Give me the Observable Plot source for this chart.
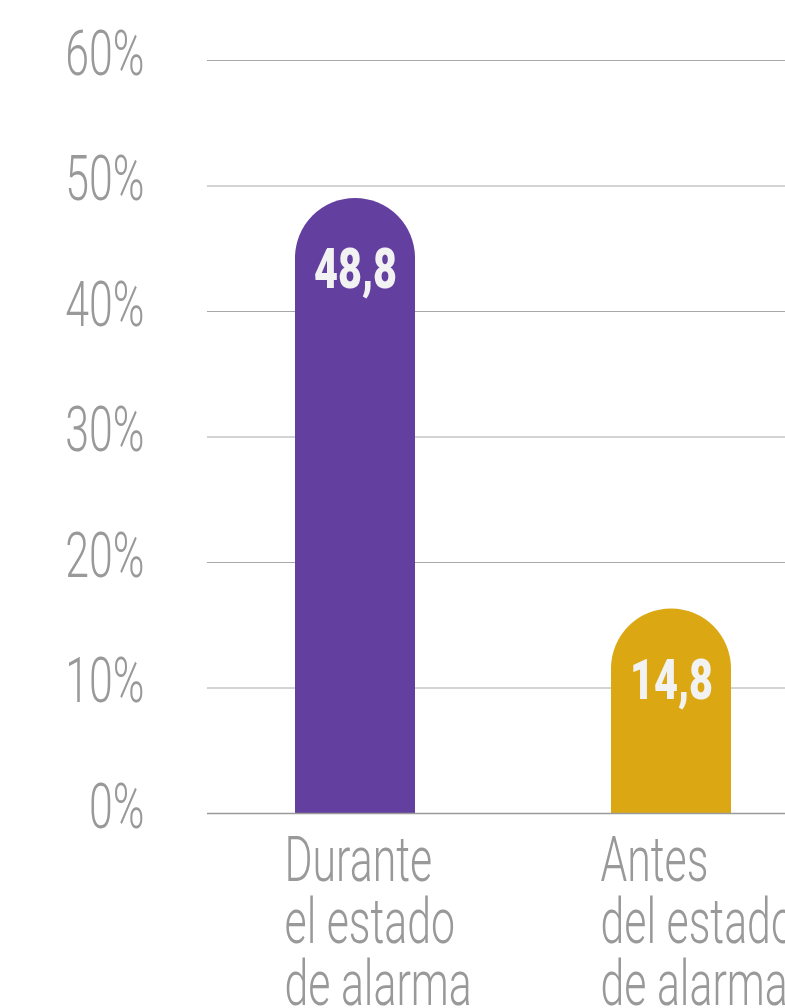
<!DOCTYPE html>
<html>
<head>
<meta charset="utf-8">
<script src="https://cdn.jsdelivr.net/npm/d3@7"></script>
<script src="https://cdn.jsdelivr.net/npm/@observablehq/plot@0.6"></script>
<style>
  html, body { margin: 0; padding: 0; background: #fff; overflow: hidden; }
  #chart svg { max-width: none !important; display: block; }
</style>
</head>
<body>
<div id="chart"></div>
<script>
const categories = ["Durante\nel estado\nde alarma", "Antes\ndel estado\nde alarma"];
const valueLabels = ["48,8", "14,8"];
const barTops = [49.0, 16.3];
const colors = ["#633f9f", "#dba814"];
const yTicks = [0, 10, 20, 30, 40, 50, 60];

const data = categories.map((c, i) => ({cat: c, top: barTops[i], label: valueLabels[i], color: colors[i]}));

const plot = Plot.plot({
  width: 830,
  height: 1008,
  marginLeft: 207,
  marginRight: 11,
  marginTop: 60,
  marginBottom: 195,
  style: {background: "#fff", maxWidth: "none", overflow: "visible"},
  x: {domain: categories, paddingInner: 0.6203, paddingOuter: 0.2785, axis: null},
  y: {domain: [0, 60], axis: null},
  marks: [
    Plot.gridY(yTicks.filter(d => d > 0), {stroke: "#a8a8a8", strokeOpacity: 1, strokeWidth: 1}),
    Plot.barY(data, {x: "cat", y: "top", fill: "color", rx: 60}),
    Plot.barY(data, {x: "cat", y1: 0, y2: d => d.top / 2, fill: "color"}),
    Plot.ruleY([0], {stroke: "#9a9a9a", strokeWidth: 1.5}),
    Plot.text(yTicks, {
      y: d => d, text: d => d + "%", frameAnchor: "left", textAnchor: "end",
      dx: -63, dy: -6, fontSize: 63, fontWeight: 300, fill: "#999999",
      fontFamily: "Roboto"
    }),
    Plot.text(data, {
      x: "cat", y: "top", text: "label", dy: 72, fontSize: 56, fontWeight: 900,
      fill: "#f2f2f2", fontFamily: "Roboto", textAnchor: "middle"
    }),
    Plot.text(data, {
      x: "cat", y: () => 0, text: "cat", textAnchor: "start", dx: -71, dy: 24,
      lineAnchor: "top", lineHeight: 0.98, fontSize: 63, fontWeight: 300,
      fill: "#999999", fontFamily: "Roboto"
    })
  ]
});

// condense the text horizontally around each label's anchor point
plot.querySelectorAll('g[aria-label="text"]').forEach(g => {
  const s = g.getAttribute("font-size") === "56" ? 0.74 : 0.68;
  g.querySelectorAll("text").forEach(t => {
    const tr = t.getAttribute("transform") || "";
    t.setAttribute("transform", `${tr} scale(${s},1)`);
  });
});

document.getElementById("chart").appendChild(plot);
</script>
</body>
</html>
